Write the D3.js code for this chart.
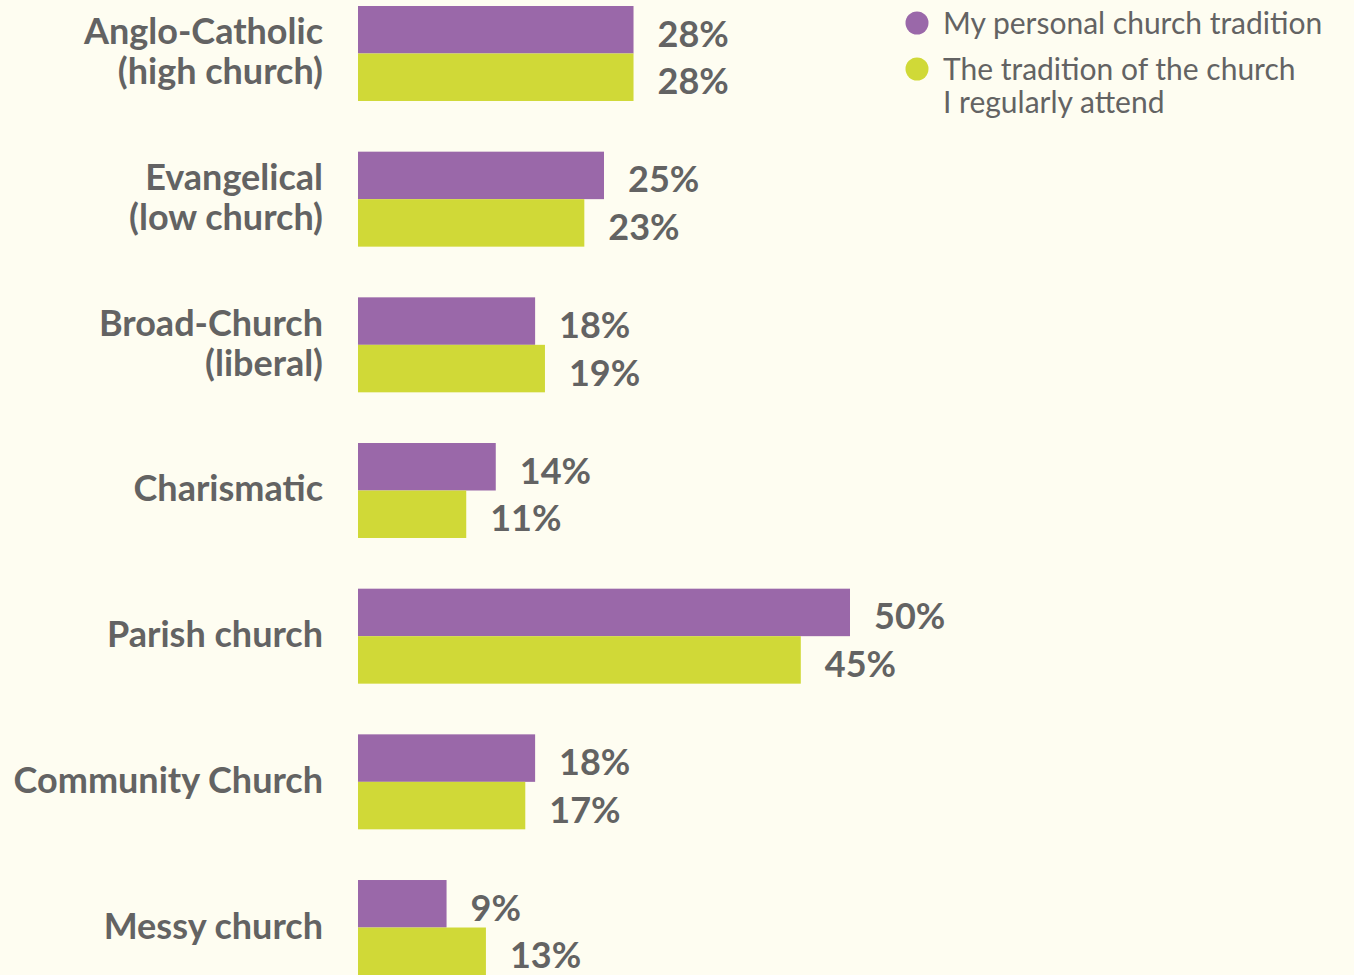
<!DOCTYPE html>
<html>
<head>
<meta charset="utf-8">
<script src="https://cdn.jsdelivr.net/npm/d3@7"></script>
<style>
    html, body { margin: 0; padding: 0; background: #fefdf1; }
    svg { display: block; }
    text { font-family: Lato, "Open Sans", sans-serif; fill: #636363; }
</style>
</head>
<body>
<svg id="chart" width="1354" height="975"></svg>
<script>
// categories (each label split into its lines)
var categories = [
    ['Anglo-Catholic', '(high church)'],
    ['Evangelical', '(low church)'],
    ['Broad-Church', '(liberal)'],
    ['Charismatic'],
    ['Parish church'],
    ['Community Church'],
    ['Messy church']
];
var seriesNames = ['My personal church tradition', 'The tradition of the church\nI regularly attend'];
var personal = [28, 25, 18, 14, 50, 18, 9];
var attend = [28, 23, 19, 11, 45, 17, 13];
var colors = ['#9a68a9', '#d0d937'];

var svg = d3.select('#chart');
var left = 358;

var x = d3.scaleLinear().domain([0, 50]).range([left, 850]);
var y = d3.scaleBand()
    .domain(d3.range(categories.length))
    .range([6, 975])
    .paddingInner(0.348)
    .paddingOuter(0);
var ySub = d3.scaleBand().domain([0, 1]).range([0, y.bandwidth()]);

var groups = svg.selectAll('.group')
    .data(categories.map(function(c, i) {
        return { label: c, values: [personal[i], attend[i]] };
    }))
    .enter().append('g')
    .attr('class', 'group')
    .attr('transform', function(d, i) { return 'translate(0,' + y(i) + ')'; });

groups.selectAll('rect')
    .data(function(d) { return d.values; })
    .enter().append('rect')
    .attr('x', x(0))
    .attr('y', function(d, j) { return ySub(j); })
    .attr('width', function(d) { return x(d) - x(0); })
    .attr('height', ySub.bandwidth())
    .attr('fill', function(d, j) { return colors[j]; });

// value labels next to the bars
groups.selectAll('.bar-values-label')
    .data(function(d) { return d.values; })
    .enter().append('text')
    .attr('class', 'bar-values-label')
    .attr('x', function(d) { return x(d) + 24; })
    .attr('y', function(d, j) { return ySub(j) + ySub.bandwidth() / 2 + 3; })
    .attr('dominant-baseline', 'central')
    .style('font-size', '36px')
    .style('font-weight', 700)
    .text(function(d) { return d + '%'; });

// category labels, right aligned
groups.append('text')
    .attr('text-anchor', 'end')
    .attr('x', 323)
    .style('font-size', '36px')
    .style('font-weight', 700)
    .each(function(d) {
        var t = d3.select(this);
        var lineHeight = 40;
        var start = y.bandwidth() / 2 - (d.label.length - 1) * lineHeight / 2 - 3;
        d.label.forEach(function(line, k) {
            t.append('tspan')
                .attr('x', 323)
                .attr('y', start + k * lineHeight)
                .attr('dominant-baseline', 'central')
                .text(line);
        });
    });

// legend
var legend = svg.append('g').attr('transform', 'translate(917,0)');
var legendY = [23, 69];
seriesNames.forEach(function(name, i) {
    legend.append('circle')
        .attr('cx', 0)
        .attr('cy', legendY[i])
        .attr('r', 11.5)
        .attr('fill', colors[i]);
    // one text per line so the lines sit tight like the original
    name.split('\n').forEach(function(line, k) {
        legend.append('text')
            .attr('x', 26)
            .attr('y', legendY[i] - 1 + k * 33)
            .attr('dominant-baseline', 'central')
            .style('font-size', '30px')
            .text(line);
    });
});
</script>
</body>
</html>
